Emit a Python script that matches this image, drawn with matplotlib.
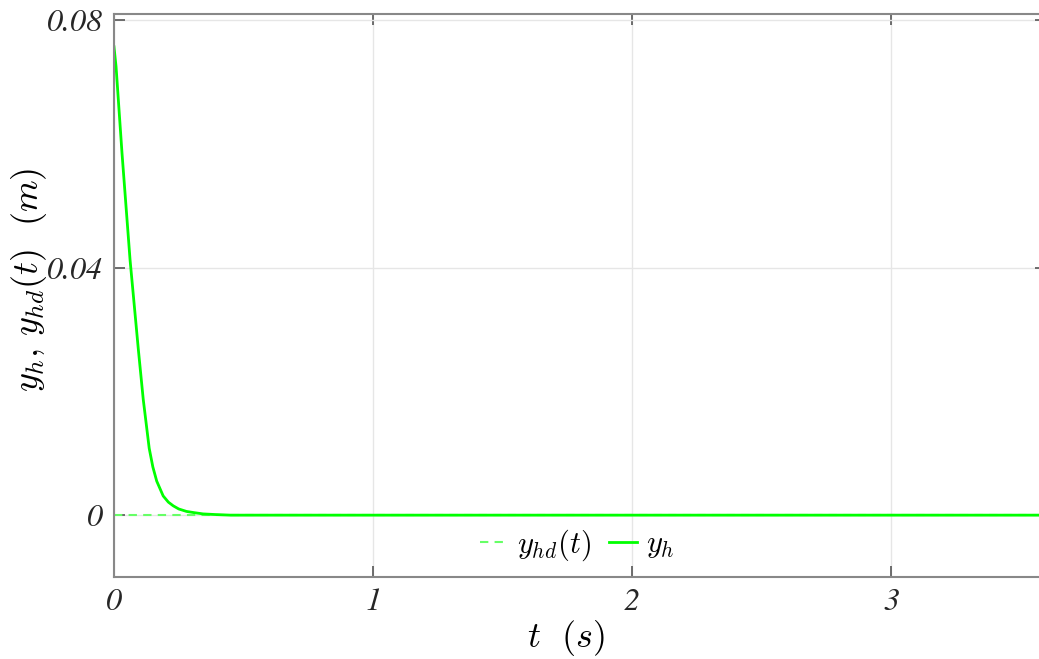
import matplotlib.pyplot as plt
import numpy as np

plt.rcParams['mathtext.fontset'] = 'cm'

# readings
t_h = [0, 0.008, 0.031, 0.062, 0.094, 0.113, 0.136, 0.15, 0.165, 0.19, 0.21, 0.229, 0.25, 0.28, 0.31,
       0.344, 0.39, 0.45, 1.0, 2.0, 3.0, 3.6]
y_h = [0.0757, 0.0725, 0.0585, 0.0413, 0.0268, 0.0187, 0.0108, 0.0078, 0.0055, 0.0031, 0.0021, 0.0015,
       0.0010, 0.0006, 0.0004, 0.0002, 0.0001, 0.0, 0.0, 0.0, 0.0, 0.0]
t_hd = [0, 3.6]
y_hd = [0.0, 0.0]

xticks = [0, 1, 2, 3]
yticks = [0, 0.04, 0.08]
ytick_labels = ['0', '0.04', '0.08']

fig = plt.figure(figsize=(10.39, 6.59), dpi=100)
ax = fig.add_axes([0.1097, 0.1244, 0.8975, 0.8544])

ax.plot(t_hd, y_hd, '--', color='#66ff66', lw=1.5, label=r'$y_{hd}(t)$', dashes=(4, 3))
ax.plot(t_h, y_h, '-', color='#00ff00', lw=2, label=r'$y_h$')

ax.set_xlim(0, 3.6)
ax.set_ylim(-0.01, 0.081)
ax.set_xticks(xticks)
ax.set_yticks(yticks)
ax.set_xticklabels([str(v) for v in xticks])
ax.set_yticklabels(ytick_labels)
for lab in ax.get_xticklabels() + ax.get_yticklabels():
    lab.set_family('STIXGeneral')
    lab.set_style('italic')
    lab.set_fontsize(23)
    lab.set_color('#262626')

ax.tick_params(direction='in', top=True, right=True, length=8, width=1.2,
               color='#555555', pad=8)
ax.grid(True, color='#e6e6e6', lw=1)
for s in ax.spines.values():
    s.set_color('#888888')
    s.set_linewidth(1.5)

ax.set_xlabel(r'$t\ \ (s)$', fontsize=26)
ax.set_ylabel(r'$y_h,\, y_{hd}(t)\ \ (m)$', fontsize=26)
ax.xaxis.set_label_coords(0.484, -0.072)
ax.yaxis.set_label_coords(-0.07, 0.527)

ax.legend(loc='center', bbox_to_anchor=(0.497, 0.057), ncol=2, frameon=False,
          fontsize=22, handlelength=0.9, columnspacing=0.6, handletextpad=0.3)

fig.savefig('out.png', dpi=100)
